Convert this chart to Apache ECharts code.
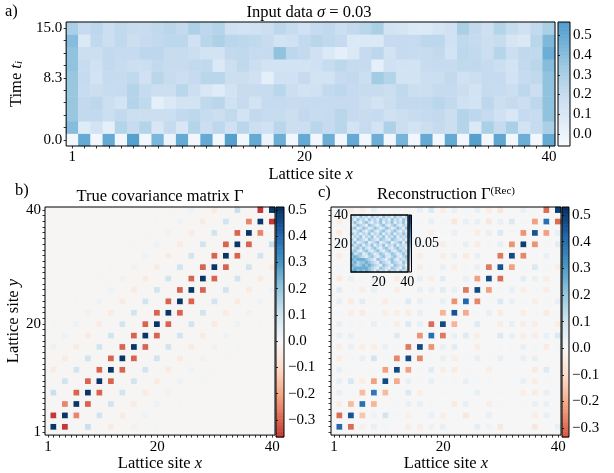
<!DOCTYPE html>
<html><head><meta charset="utf-8">
<script src="https://cdn.jsdelivr.net/npm/echarts@6/dist/echarts.min.js"></script>
<style>html,body{margin:0;padding:0;background:#fff}#c{width:614px;height:473px}</style>
</head><body><div id="c"></div>
<script>
// ---------------- data ----------------
const sites = Array.from({length: 40}, (_, k) => String(k + 1));
const siteTickLabels = ['1', '20', '40'];
const insetTickLabels = ['20', '40'];
const timeLabels = ['0.0','1.7','3.3','5.0','6.7','8.3','10.0','11.7','13.3','15.0'];
const timeTickLabels = ['0.0', '8.3', '15.0'];

// panel a: rows from t=0 (bottom) to t=15 (top), 40 sites each
const inputT0  = [-0.03,0.50,-0.03,0.50,-0.03,0.55,-0.03,0.44,0.0,0.50,-0.03,0.50,-0.03,0.55,-0.03,0.50,0.0,0.48,-0.03,0.50,-0.03,0.48,-0.03,0.50,-0.03,0.48,-0.03,0.45,-0.03,0.50,-0.03,0.50,-0.03,0.55,-0.03,0.52,-0.03,0.48,-0.03,0.50];
const inputT1  = [0.41,0.07,0.14,0.04,0.27,0.20,0.27,0.11,0.21,0.11,0.27,0.18,0.24,0.16,0.25,0.18,0.16,0.25,0.18,0.18,0.25,0.21,0.25,0.14,0.21,0.14,0.29,0.18,0.14,0.18,0.21,0.18,0.27,0.09,0.30,0.21,0.30,0.14,0.21,0.30];
const inputT2  = [0.36,0.22,0.22,0.18,0.22,0.18,0.18,0.18,0.18,0.22,0.24,0.20,0.18,0.22,0.14,0.22,0.20,0.20,0.18,0.22,0.20,0.21,0.25,0.21,0.20,0.21,0.16,0.18,0.20,0.21,0.22,0.18,0.27,0.24,0.21,0.16,0.11,0.21,0.20,0.38];
const inputT3  = [0.36,0.22,0.24,0.18,0.14,0.27,0.23,0.04,0.09,0.14,0.14,0.23,0.25,0.16,0.21,0.14,0.21,0.21,0.20,0.21,0.21,0.21,0.21,0.21,0.18,0.14,0.18,0.22,0.22,0.22,0.25,0.22,0.16,0.14,0.24,0.18,0.21,0.18,0.24,0.38];
const inputT4  = [0.36,0.20,0.18,0.20,0.21,0.27,0.21,0.18,0.18,0.25,0.18,0.11,0.07,0.14,0.20,0.20,0.20,0.25,0.18,0.14,0.16,0.22,0.24,0.21,0.20,0.20,0.18,0.23,0.18,0.18,0.21,0.21,0.18,0.14,0.21,0.20,0.18,0.24,0.18,0.38];
const inputT5  = [0.36,0.21,0.14,0.21,0.21,0.23,0.16,0.25,0.20,0.18,0.21,0.25,0.25,0.18,0.18,0.16,0.04,0.16,0.16,0.21,0.14,0.14,0.21,0.22,0.18,0.33,0.27,0.14,0.14,0.18,0.18,0.22,0.16,0.18,0.21,0.21,0.14,0.21,0.23,0.38];
const inputT6  = [0.38,0.20,0.16,0.22,0.20,0.18,0.18,0.22,0.20,0.20,0.22,0.23,0.09,0.18,0.23,0.18,0.14,0.14,0.14,0.14,0.16,0.20,0.24,0.21,0.21,0.04,0.16,0.14,0.14,0.20,0.21,0.21,0.23,0.23,0.21,0.18,0.14,0.22,0.25,0.41];
const inputT7  = [0.38,0.18,0.18,0.22,0.21,0.21,0.24,0.24,0.20,0.20,0.18,0.14,0.14,0.22,0.23,0.21,0.21,0.38,0.24,0.22,0.16,0.09,0.04,0.09,0.21,0.24,0.14,0.21,0.20,0.20,0.22,0.14,0.24,0.22,0.18,0.26,0.18,0.23,0.23,0.48];
const inputT8  = [0.41,0.09,0.23,0.18,0.23,0.18,0.21,0.22,0.24,0.24,0.16,0.25,0.29,0.25,0.24,0.23,0.20,0.14,0.16,0.22,0.25,0.23,0.21,0.09,0.09,0.09,0.21,0.21,0.21,0.24,0.24,0.16,0.23,0.21,0.18,0.20,0.12,0.10,0.25,0.43];
const inputT9  = [0.30,0.21,0.24,0.18,0.23,0.20,0.20,0.23,0.25,0.22,0.29,0.24,0.27,0.16,0.14,0.16,0.18,0.24,0.20,0.16,0.21,0.23,0.18,0.22,0.25,0.30,0.14,0.12,0.09,0.09,0.12,0.16,0.30,0.22,0.17,0.27,0.20,0.16,0.22,0.30];
const inputRows = [inputT0, inputT1, inputT2, inputT3, inputT4, inputT5, inputT6, inputT7, inputT8, inputT9];

// panel b: true covariance on even sites (2,4,...,40), band values
const trueDiag = [0.5,0.5,0.5,0.5,0.5,0.5,0.5,0.5,0.5,0.5,0.5,0.5,0.5,0.5,0.5,0.5,0.5,0.5,0.5,0.5];
const trueOff1 = [-0.365,-0.25,-0.30,-0.30,-0.30,-0.30,-0.30,-0.30,-0.30,-0.30,-0.30,-0.30,-0.30,-0.30,-0.30,-0.30,-0.30,-0.25,-0.365];
const trueOff3 = [0.12,0.10,0.10,0.10,0.10,0.10,0.10,0.10,0.10,0.10,0.10,0.10,0.10,0.10,0.10,0.10,0.12];
const trueOff5 = [-0.045,-0.045,-0.045,-0.045,-0.045,-0.045,-0.045,-0.045,-0.045,-0.045,-0.045,-0.045,-0.045,-0.045,-0.045];
const trueOff7 = [0.025,0.025,0.025,0.025,0.025,0.025,0.025,0.025,0.025,0.025,0.025,0.025,0.025];
const trueOff9 = [0.012,0.012,0.012,0.012,0.012,0.012,0.012,0.012,0.012,0.012,0.012];

// panel c: reconstruction on even sites, rows from y=2 (bottom) to y=40 (top)
const recRows = [
 [0.42,-0.30,-0.03,0.04,0.01,0.0,-0.04,-0.04,0.03,0.04,0.0,0.0,0.05,0.02,-0.06,0.0,0.0,-0.06,0.0,0.04],
 [-0.30,0.46,-0.15,0.03,0.10,0.01,-0.03,0.0,0.04,-0.04,0.0,-0.06,0.0,0.04,0.0,0.01,0.0,-0.04,0.04,0.0],
 [-0.04,-0.17,0.40,-0.18,0.0,0.01,0.04,0.04,0.01,0.0,-0.05,0.04,0.0,-0.04,0.01,0.0,0.01,0.04,0.04,0.0],
 [0.04,0.01,-0.17,0.38,-0.17,0.0,0.08,-0.04,0.01,0.01,0.0,0.01,0.04,0.01,0.01,0.0,-0.04,-0.05,0.04,0.01],
 [0.04,0.09,-0.04,-0.22,0.48,-0.20,0.04,0.01,0.04,0.01,0.01,0.04,0.01,0.01,0.0,0.0,0.04,-0.04,0.01,0.0],
 [0.04,0.01,0.0,0.01,-0.22,0.48,-0.22,0.01,0.06,-0.04,-0.05,0.01,0.0,-0.04,0.0,0.0,0.0,-0.05,0.07,0.0],
 [-0.04,0.01,0.04,0.10,0.01,-0.26,0.48,-0.26,0.01,0.04,-0.04,0.01,0.04,0.01,0.04,0.0,0.04,0.04,0.0,0.0],
 [-0.04,0.04,-0.04,-0.04,0.04,0.01,-0.28,0.48,-0.24,0.04,0.06,0.0,-0.04,0.0,0.01,0.01,0.04,0.01,-0.05,0.01],
 [0.04,0.04,0.0,0.01,0.01,0.07,0.01,-0.24,0.40,-0.28,0.04,0.07,-0.04,0.01,0.08,0.04,-0.04,-0.04,0.04,0.08],
 [0.04,0.01,0.01,0.04,0.01,-0.04,0.08,0.04,-0.30,0.48,-0.18,0.0,0.07,0.0,-0.04,0.04,-0.04,-0.04,0.0,-0.04],
 [0.01,-0.04,-0.05,0.01,-0.04,-0.04,-0.05,0.04,0.01,-0.18,0.46,-0.20,0.01,0.04,-0.05,0.01,-0.04,0.01,-0.05,0.01],
 [0.04,-0.05,0.06,0.01,-0.04,0.01,0.07,0.04,0.01,0.04,-0.24,0.42,-0.26,0.01,0.08,0.04,0.01,-0.04,0.01,0.04],
 [0.06,0.01,-0.04,0.04,0.01,-0.04,0.01,0.04,0.04,0.06,0.04,-0.28,0.48,-0.22,0.01,0.04,-0.04,0.01,-0.04,0.01],
 [-0.05,0.04,0.01,0.04,0.01,-0.04,0.01,0.04,-0.04,0.06,0.01,0.04,-0.22,0.48,-0.30,0.01,0.06,0.04,-0.04,0.01],
 [0.01,0.01,0.0,0.01,0.0,0.01,0.04,-0.04,0.01,0.04,-0.04,0.01,0.04,-0.28,0.46,-0.22,0.01,0.08,0.01,-0.04],
 [-0.04,0.01,0.01,0.0,0.01,0.0,-0.05,-0.04,0.01,-0.04,0.04,-0.05,0.04,0.01,-0.28,0.48,-0.26,0.01,0.04,0.01],
 [0.04,0.0,0.01,0.01,0.0,0.01,0.01,0.04,0.01,-0.04,0.01,0.04,-0.04,0.01,0.04,-0.24,0.50,-0.24,0.01,0.06],
 [-0.05,0.01,0.0,0.01,0.01,0.0,0.04,0.01,-0.04,0.01,0.04,0.01,-0.04,0.04,0.08,0.01,-0.24,0.46,-0.22,0.04],
 [-0.04,0.0,0.01,0.0,0.01,0.01,0.04,0.01,0.04,0.01,-0.06,0.04,0.04,-0.06,0.04,0.08,0.01,-0.22,0.40,-0.30],
 [0.04,-0.04,-0.04,0.04,0.0,0.0,0.01,0.04,0.08,-0.04,0.04,0.01,0.04,-0.04,-0.06,0.01,0.04,0.01,-0.30,0.50]
];

// inset: coarse 20x20 error map (digits = hundredths), top row = sites 39-40
const insetRows = [
 "23142314231423142313","31423142314231423142","24213421324132413241","12432143213421342132",
 "34124312431243124314","21342134213421342131","42313241324132413242","13241324132413241323",
 "31432143214321432131","24123412341234123414","42341324132413241322","13424213421342134231",
 "34213421342134213423","52341243124312431242","45432134213421342134","54555432143213421323",
 "45344543214321432142","54345454321432143231","45555543214321432142","56454543142314231423"
];

const cbTicksA = [0.0, 0.1, 0.2, 0.3, 0.4, 0.5];
const cbTicksBC = [-0.3, -0.2, -0.1, 0.0, 0.1, 0.2, 0.3, 0.4, 0.5];
const cbTicksInset = [0.05];
const rangeA = [-0.061, 0.568], rangeB = [-0.365, 0.511], rangeC = [-0.333, 0.53], rangeI = [0, 0.1];

// ---------------- colormaps ----------------
const RDBU = ['#67001f','#b2182b','#d6604d','#f4a582','#fddbc7','#f7f7f7','#d1e5f0','#92c5de','#4393c3','#2166ac','#053061'];
const BLUES = ['#f7fbff','#deebf7','#c6dbef','#9ecae1','#6baed6','#4292c6','#2171b5','#08519c','#08306b'];
function hex2rgb(h){return [parseInt(h.substr(1,2),16),parseInt(h.substr(3,2),16),parseInt(h.substr(5,2),16)];}
function cmap(anchors, p){
  p = Math.max(0, Math.min(1, p));
  const t = p * (anchors.length - 1), k = Math.min(anchors.length - 2, Math.floor(t)), f = t - k;
  const a = hex2rgb(anchors[k]), b = hex2rgb(anchors[k + 1]);
  return 'rgb(' + a.map((x, i) => Math.round(x + (b[i] - x) * f)).join(',') + ')';
}
function stops(anchors, range, pOf){
  const n = 48, out = [];
  for (let k = 0; k < n; k++){ const v = range[0] + (range[1] - range[0]) * k / (n - 1); out.push(cmap(anchors, pOf(v))); }
  return out;
}
const colorsA = stops(BLUES, rangeA, v => (v - rangeA[0]) / (rangeA[1] - rangeA[0]) * 0.58);
const colorsB = stops(RDBU, rangeB, v => (v + 0.511) / 1.022);
const colorsC = stops(RDBU, rangeC, v => (v + 0.53) / 1.06);
const colorsI = stops(BLUES, rangeI, v => v / 0.1);

// ---------------- build series data ----------------
const dataA = [];
inputRows.forEach((row, r) => row.forEach((v, c) => dataA.push([c, r, v])));

const N = 20;
const trueM = Array.from({length: N}, () => new Array(N).fill(0));
trueDiag.forEach((v, i) => { trueM[i][i] = v; });
[[1, trueOff1], [3, trueOff3], [5, trueOff5], [7, trueOff7], [9, trueOff9]].forEach(([k, arr]) => {
  arr.forEach((v, i) => { trueM[i][i + k] = v; trueM[i + k][i] = v; });
});
function evenSiteData(M){
  const out = [];
  for (let y = 0; y < 40; y++) for (let x = 0; x < 40; x++) {
    const on = (x % 2 === 1) && (y % 2 === 1);
    out.push([x, y, on ? M[(y - 1) / 2][(x - 1) / 2] : 0]);
  }
  return out;
}
const dataB = evenSiteData(trueM);
const dataC = evenSiteData(recRows);
const dataI = [];
for (let y = 0; y < 40; y++) for (let x = 0; x < 40; x++) {
  dataI.push([x, y, Number(insetRows[19 - Math.floor(y / 2)][Math.floor(x / 2)]) * 0.01]);
}
function cbData(range){
  const n = 160, out = [];
  for (let k = 0; k < n; k++){
    const lo = range[0] + (range[1] - range[0]) * k / n, hi = range[0] + (range[1] - range[0]) * (k + 1) / n;
    out.push([0, lo, (lo + hi) / 2, hi]);
  }
  return out;
}
function cbRender(params, api){
  const a = api.coord([0, api.value(1)]);
  const b = api.coord([1, api.value(3)]);
  return {type: 'rect', shape: {x: a[0], y: b[1], width: b[0] - a[0], height: a[1] - b[1] + 0.6}, style: {fill: api.visual('color')}};
}

// ---------------- styling ----------------
const FONT = "'Liberation Serif', 'DejaVu Serif', serif";
const TXT = {fontFamily: FONT, fontSize: 15, color: '#000', fontWeight: 'normal'};
const NM = Object.assign({}, TXT, {fontSize: 16.5});
const IT = Object.assign({}, NM, {fontStyle: 'italic'});
const SUB = Object.assign({}, NM, {fontSize: 11, verticalAlign: 'bottom', fontStyle: 'italic'});
const SUP = Object.assign({}, NM, {fontSize: 11, verticalAlign: 'top'});
const tickStyle = {color: '#000', width: 0.8};
const frame = {show: true, z: 5, backgroundColor: 'transparent', borderColor: '#000', borderWidth: 1};

function catX(grid, labelSet, extra){
  return Object.assign({
    type: 'category', gridIndex: grid, data: sites, z: 6,
    axisLine: {show: false},
    axisTick: {show: true, interval: 0, alignWithLabel: true, length: 2.5, lineStyle: tickStyle},
    axisLabel: Object.assign({}, TXT, {margin: 4, interval: (i, v) => labelSet.includes(v)}),
    splitLine: {show: false}
  }, extra || {});
}
function cbY(grid, range, ticks, fmt, fs, margin){
  return {
    type: 'value', gridIndex: grid, position: 'right', min: range[0], max: range[1], z: 6,
    axisLine: {show: false}, splitLine: {show: false},
    axisTick: {show: true, customValues: ticks, length: 2, lineStyle: tickStyle},
    axisLabel: Object.assign({}, TXT, {fontSize: fs, margin: margin, customValues: ticks, formatter: fmt})
  };
}
const fmt1 = v => (v < -1e-9 ? '\u2212' : '') + Math.abs(v).toFixed(1);
const fmt2 = v => Math.abs(v).toFixed(2);
const nameStyle = Object.assign({}, NM, {rich: {i: IT, s: SUB}});

const option = {
  animation: false,
  backgroundColor: '#fff',
  title: [
    {text: 'a)', left: 5, top: 3, padding: 0, textStyle: NM},
    {text: 'Input data {i|σ} = 0.03', left: 309, top: 4, padding: 0, textAlign: 'center', textStyle: Object.assign({}, NM, {rich: {i: IT}})},
    {text: 'b)', left: 15, top: 182, padding: 0, textStyle: NM},
    {text: 'True covariance matrix Γ', left: 160, top: 188, padding: 0, textAlign: 'center', textStyle: NM},
    {text: 'c)', left: 318, top: 184, padding: 0, textStyle: NM},
    {text: 'Reconstruction Γ{s|(Rec)}', left: 446, top: 186, padding: 0, textAlign: 'center', textStyle: Object.assign({}, NM, {rich: {s: SUP}})}
  ],
  grid: [
    Object.assign({left: 63, top: 22, width: 492, height: 124}, frame),
    Object.assign({left: 45, top: 207, width: 230, height: 230}, frame),
    Object.assign({left: 331, top: 207, width: 230, height: 230}, frame),
    Object.assign({left: 351, top: 215, width: 57, height: 57}, frame, {z: 8, borderWidth: 1.3}),
    Object.assign({left: 558, top: 22, width: 12, height: 124}, frame),
    Object.assign({left: 276, top: 207, width: 8, height: 230}, frame),
    Object.assign({left: 562, top: 207, width: 7, height: 230}, frame),
    Object.assign({left: 409, top: 215, width: 2.5, height: 57}, frame, {z: 8})
  ],
  xAxis: [
    catX(0, siteTickLabels, {name: 'Lattice site {i|x}', nameLocation: 'middle', nameGap: 15, nameTextStyle: nameStyle}),
    catX(1, siteTickLabels, {name: 'Lattice site {i|x}', nameLocation: 'middle', nameGap: 17, nameTextStyle: nameStyle}),
    catX(2, siteTickLabels, {name: 'Lattice site {i|x}', nameLocation: 'middle', nameGap: 17, nameTextStyle: nameStyle}),
    catX(3, insetTickLabels, {z: 9, axisTick: {show: false}, axisLabel: Object.assign({}, TXT, {fontSize: 14, margin: 3, interval: (i, v) => insetTickLabels.includes(v)})}),
    {type: 'value', gridIndex: 4, min: 0, max: 1, show: false},
    {type: 'value', gridIndex: 5, min: 0, max: 1, show: false},
    {type: 'value', gridIndex: 6, min: 0, max: 1, show: false},
    {type: 'value', gridIndex: 7, min: 0, max: 1, show: false}
  ],
  yAxis: [
    Object.assign(catX(0, timeTickLabels, {name: 'Time {i|t}{s|i}', nameLocation: 'middle', nameRotate: 90, nameGap: 37, nameTextStyle: nameStyle}),
      {data: timeLabels, axisLabel: Object.assign({}, TXT, {margin: 4, interval: (i, v) => timeTickLabels.includes(v)})}),
    catX(1, siteTickLabels, {name: 'Lattice site {i|y}', nameLocation: 'middle', nameRotate: 90, nameGap: 20, nameTextStyle: nameStyle}),
    catX(2, siteTickLabels, {axisLabel: {show: false}}),
    catX(3, insetTickLabels, {z: 9, axisTick: {show: false}, axisLabel: Object.assign({}, TXT, {fontSize: 14, margin: 3, interval: (i, v) => insetTickLabels.includes(v)})}),
    cbY(4, rangeA, cbTicksA, fmt1, 15, 3),
    cbY(5, rangeB, cbTicksBC, fmt1, 15, 4),
    cbY(6, rangeC, cbTicksBC, fmt1, 15, 3),
    cbY(7, rangeI, cbTicksInset, fmt2, 14, 3)
  ],
  visualMap: [
    {type: 'continuous', show: false, seriesIndex: [0, 4], dimension: 2, min: rangeA[0], max: rangeA[1], inRange: {color: colorsA}},
    {type: 'continuous', show: false, seriesIndex: [1, 5], dimension: 2, min: rangeB[0], max: rangeB[1], inRange: {color: colorsB}},
    {type: 'continuous', show: false, seriesIndex: [2, 6], dimension: 2, min: rangeC[0], max: rangeC[1], inRange: {color: colorsC}},
    {type: 'continuous', show: false, seriesIndex: [3, 7], dimension: 2, min: rangeI[0], max: rangeI[1], inRange: {color: colorsI}}
  ],
  series: [
    {type: 'heatmap', xAxisIndex: 0, yAxisIndex: 0, data: dataA, progressive: 0, emphasis: {disabled: true}, itemStyle: {borderWidth: 0}},
    {type: 'heatmap', xAxisIndex: 1, yAxisIndex: 1, data: dataB, progressive: 0, emphasis: {disabled: true}, itemStyle: {borderWidth: 0}},
    {type: 'heatmap', xAxisIndex: 2, yAxisIndex: 2, data: dataC, progressive: 0, emphasis: {disabled: true}, itemStyle: {borderWidth: 0}},
    {type: 'heatmap', xAxisIndex: 3, yAxisIndex: 3, data: dataI, progressive: 0, z: 7, emphasis: {disabled: true}, itemStyle: {borderWidth: 0}},
    {type: 'custom', xAxisIndex: 4, yAxisIndex: 4, data: cbData(rangeA), renderItem: cbRender, silent: true},
    {type: 'custom', xAxisIndex: 5, yAxisIndex: 5, data: cbData(rangeB), renderItem: cbRender, silent: true},
    {type: 'custom', xAxisIndex: 6, yAxisIndex: 6, data: cbData(rangeC), renderItem: cbRender, silent: true},
    {type: 'custom', xAxisIndex: 7, yAxisIndex: 7, data: cbData(rangeI), renderItem: cbRender, silent: true, z: 7}
  ]
};
const chart = echarts.init(document.getElementById('c'), null, {renderer: 'canvas'});
chart.setOption(option);
</script>
</body></html>
